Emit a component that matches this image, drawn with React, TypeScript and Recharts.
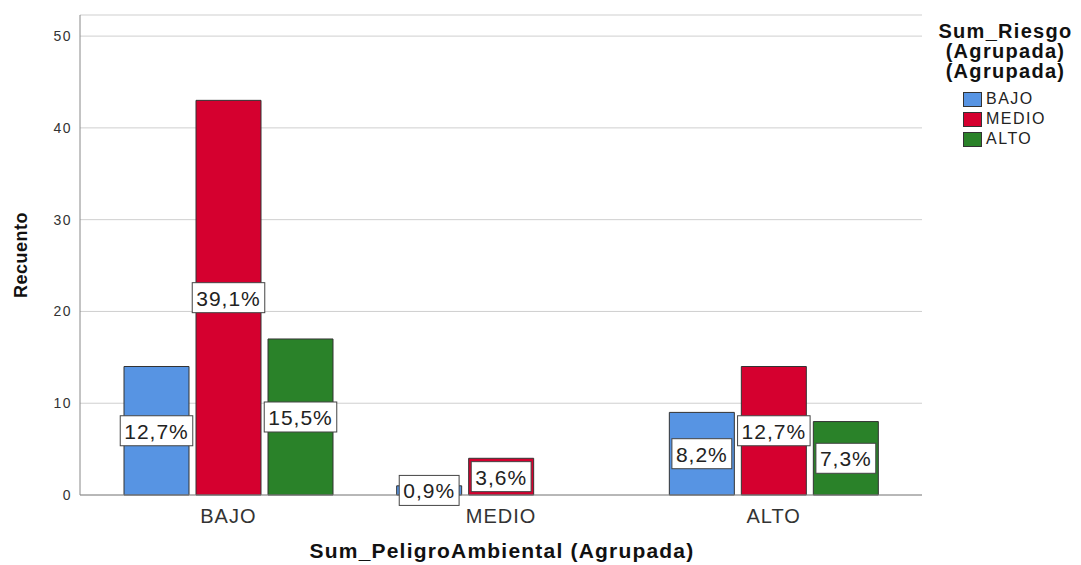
import React from "react"
import {
    Bar,
    BarChart,
    CartesianGrid,
    LabelList,
    Legend,
    XAxis,
    YAxis,
} from "recharts"

const categories = ["BAJO", "MEDIO", "ALTO"]
const bajoCounts = [14, 1, 9]
const medioCounts = [43, 4, 14]
const altoCounts = [17, 0, 8]
const bajoPct = ["12,7%", "0,9%", "8,2%"]
const medioPct = ["39,1%", "3,6%", "12,7%"]
const altoPct = ["15,5%", "", "7,3%"]
const yTicks = [0, 10, 20, 30, 40, 50]

const FONT = "'Liberation Sans', Arial, sans-serif"

const series = [
    { key: "BAJO", color: "#5794e3" },
    { key: "MEDIO", color: "#d5002f" },
    { key: "ALTO", color: "#2a8229" },
]

const data = categories.map((name, i) => ({
    name,
    BAJO: bajoCounts[i],
    MEDIO: medioCounts[i],
    ALTO: altoCounts[i],
    BAJO_pct: bajoPct[i],
    MEDIO_pct: medioPct[i],
    ALTO_pct: altoPct[i],
}))

// rough Arial advance widths, em units
const charW = (c: string) => (c === "," ? 0.278 : c === "%" ? 0.889 : 0.556)
const textWidth = (t: string, size: number, spacing: number) =>
    t.split("").reduce((s, c) => s + charW(c) * size + spacing, 0)

const PctLabel = (props: any) => {
    const box = props.viewBox ?? props
    const { x, y, width, height } = box
    const text = props.value
    if (!text) return null
    const cx = x + width / 2
    const cy = y + height / 2
    const w = textWidth(String(text), 21, 1) + 8
    return (
        <g>
            <rect x={cx - w / 2} y={cy - 15} width={w} height={30} fill="#fff" stroke="#444" strokeWidth={1} />
            <text
                x={cx}
                y={cy + 8}
                textAnchor="middle"
                fontSize={21}
                letterSpacing={1}
                fill="#222"
                fontFamily={FONT}
            >
                {text}
            </text>
        </g>
    )
}

const LegendBox = () => (
    <div style={{ fontFamily: FONT, color: "#111" }}>
        <div style={{ textAlign: "center", fontWeight: "bold", fontSize: 20, letterSpacing: 1.3, lineHeight: "20px" }}>
            Sum_Riesgo
            <br />
            (Agrupada)
            <br />
            (Agrupada)
        </div>
        <div style={{ marginTop: 8, marginLeft: 33 }}>
            {series.map((s) => (
                <div key={s.key} style={{ display: "flex", alignItems: "center", height: 20 }}>
                    <span
                        style={{
                            display: "inline-block",
                            width: 17,
                            height: 13,
                            background: s.color,
                            border: "1px solid #333",
                            marginRight: 4,
                        }}
                    />
                    <span style={{ fontSize: 16, letterSpacing: 1.5, color: "#222" }}>{s.key}</span>
                </div>
            ))}
        </div>
    </div>
)

const YTitle = () => (
    <text
        x={27}
        y={255}
        transform="rotate(-90 27 255)"
        textAnchor="middle"
        fontSize={18}
        fontWeight="bold"
        letterSpacing={0.5}
        fill="#111"
        fontFamily={FONT}
    >
        Recuento
    </text>
)

const XTitle = () => (
    <text
        x={502}
        y={558}
        textAnchor="middle"
        fontSize={21}
        fontWeight="bold"
        letterSpacing={1.2}
        fill="#111"
        fontFamily={FONT}
    >
        Sum_PeligroAmbiental (Agrupada)
    </text>
)

export default function App() {
    return (
        <div style={{ position: "absolute", left: 0, top: 0, background: "#fff" }}>
            <BarChart
                width={1081}
                height={565}
                data={data}
                margin={{ top: 15, right: 159, bottom: 0, left: 0 }}
                barCategoryGap={32}
                barGap={7}
            >
                <CartesianGrid stroke="#cfcfcf" vertical={false} />
                <XAxis
                    dataKey="name"
                    height={70}
                    padding={{ left: 12, right: 12 }}
                    tickLine={false}
                    axisLine={{ stroke: "#888" }}
                    tick={{ fill: "#333", fontSize: 20, letterSpacing: 1, fontFamily: FONT }}
                    dy={6}
                    label={<XTitle />}
                />
                <YAxis
                    width={80}
                    domain={[0, 52.3]}
                    ticks={yTicks}
                    tickLine={false}
                    axisLine={{ stroke: "#888" }}
                    tick={{ fill: "#333", fontSize: 14, letterSpacing: 1.5, fontFamily: FONT }}
                    label={<YTitle />}
                />
                <Legend
                    layout="horizontal"
                    verticalAlign="middle"
                    align="center"
                    content={<LegendBox />}
                    wrapperStyle={{ left: 930, top: 21, width: 151 }}
                />
                {series.map((s) => (
                    <Bar
                        key={s.key}
                        dataKey={s.key}
                        fill={s.color}
                        stroke="#333"
                        strokeWidth={1}
                        isAnimationActive={false}
                    >
                        <LabelList dataKey={`${s.key}_pct`} content={<PctLabel />} />
                    </Bar>
                ))}
            </BarChart>
        </div>
    )
}
